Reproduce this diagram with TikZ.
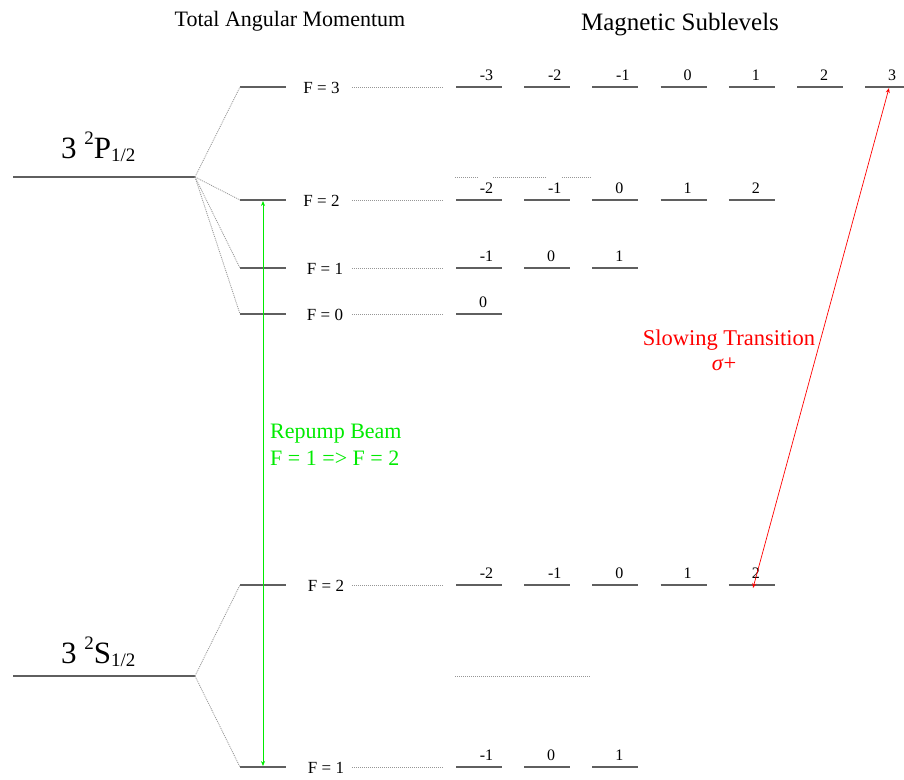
\documentclass[tikz,border=0pt]{standalone}
\usepackage{fontspec}
\setmainfont{Liberation Serif}
\usetikzlibrary{arrows.meta}
\definecolor{lvl}{RGB}{95,95,95}
\definecolor{dotc}{RGB}{150,150,150}
\definecolor{repump}{RGB}{0,235,0}
\tikzset{
  level/.style={draw=lvl, line width=1.1pt},
  dotl/.style={draw=dotc, line width=0.8pt, dash pattern=on 1pt off 1pt},
  flab/.style={anchor=base, inner sep=0pt, font=\fontsize{17}{19}\selectfont},
  mlab/.style={anchor=base, inner sep=0pt, font=\fontsize{16}{18}\selectfont},
  head/.style={anchor=base, inner sep=0pt, font=\fontsize{22}{26}\selectfont},
  big/.style={anchor=base west, inner sep=0pt, font=\fontsize{31}{36}\selectfont},
}
\newcommand{\sublevel}[4]{% #1 index (1..7), #2 y, #3 label, #4 offset
  \pgfmathsetmacro{\xa}{456+68.2*(#1-1)}
  \pgfmathsetmacro{\xb}{\xa+46}
  \coordinate (s#2a#1) at (\xa,#2);
  \coordinate (s#2b#1) at (\xb,#2);
  \draw[level] (s#2a#1) -- (s#2b#1);
  \node[mlab] (n#2m#1) at (\xa+23+#4,#2-7) {#3};
}
\begin{document}
\begin{tikzpicture}[x=1pt,y=-1pt]
\useasboundingbox (0,0) rectangle (904,779);
\fill[white] (0,0) rectangle (904,779);

% headers
\node[head] (hTAM) at (290,26) {Total Angular Momentum};
\node[head, font=\fontsize{25}{29}\selectfont] (hMS) at (680,30) {Magnetic Sublevels};

% fine-structure levels
\node[big] (Plab) at (61,158) {3 \raisebox{0.42em}{\fontsize{19}{20}\selectfont 2}P\raisebox{-0.12em}{\fontsize{19}{20}\selectfont 1/2}};
\node[big] (Slab) at (61,663) {3 \raisebox{0.42em}{\fontsize{19}{20}\selectfont 2}S\raisebox{-0.12em}{\fontsize{19}{20}\selectfont 1/2}};
\coordinate (P0) at (13,177);
\coordinate (P1) at (195,177);
\coordinate (S0) at (13,676);
\coordinate (S1) at (195,676);
\draw[level] (P0) -- (P1);
\draw[level] (S0) -- (S1);

% hyperfine levels
\foreach \nm/\y/\lx/\lab in {u3/87/321.5/3, u2/200/321.5/2, u1/268/325/1, u0/314/325/0, g2/585/326/2, g1/767/326/1}{
  \coordinate (\nm L) at (240,\y);
  \coordinate (\nm R) at (286,\y);
  \draw[level] (\nm L) -- (\nm R);
  \node[flab] (\nm lab) at (\lx,\y+6.5) {F = \lab};
  \coordinate (\nm dA) at (352,\y);
  \coordinate (\nm dB) at (443,\y);
  \draw[dotl] (\nm dA) -- (\nm dB);
}
\foreach \nm in {u3,u2,u1,u0}{ \draw[dotl] (P1) -- (\nm L); }
\foreach \nm in {g2,g1}{ \draw[dotl] (S1) -- (\nm L); }

% extra dotted continuation lines
\coordinate (d1a) at (455,177); \coordinate (d1b) at (478,177);
\coordinate (d2a) at (493,177); \coordinate (d2b) at (546,177);
\coordinate (d3a) at (562,177); \coordinate (d3b) at (591,177);
\coordinate (d4a) at (455,676); \coordinate (d4b) at (591,676);
\draw[dotl] (d1a) -- (d1b);
\draw[dotl] (d2a) -- (d2b);
\draw[dotl] (d3a) -- (d3b);
\draw[dotl] (d4a) -- (d4b);

% magnetic sublevels
\sublevel{1}{87}{-3}{7.5}
\sublevel{2}{87}{-2}{7.5}
\sublevel{3}{87}{-1}{7.5}
\sublevel{4}{87}{0}{4}
\sublevel{5}{87}{1}{4}
\sublevel{6}{87}{2}{4}
\sublevel{7}{87}{3}{4}

\sublevel{1}{200}{-2}{7.5}
\sublevel{2}{200}{-1}{7.5}
\sublevel{3}{200}{0}{4}
\sublevel{4}{200}{1}{4}
\sublevel{5}{200}{2}{4}

\sublevel{1}{268}{-1}{7.5}
\sublevel{2}{268}{0}{4}
\sublevel{3}{268}{1}{4}

\sublevel{1}{314}{0}{4}

\sublevel{1}{585}{-2}{7.5}
\sublevel{2}{585}{-1}{7.5}
\sublevel{3}{585}{0}{4}
\sublevel{4}{585}{1}{4}
\sublevel{5}{585}{2}{4}

\sublevel{1}{767}{-1}{7.5}
\sublevel{2}{767}{0}{4}
\sublevel{3}{767}{1}{4}

% repump beam
\coordinate (rpTop) at (263,201);
\coordinate (rpBot) at (263,766);
\draw[repump, line width=0.7pt, {Stealth[length=5pt,width=4pt]}-{Stealth[length=5pt,width=4pt]}] (rpBot) -- (rpTop);
\node[anchor=base west, inner sep=0pt, text=repump, font=\fontsize{22}{26}\selectfont] (rpl1) at (270,438) {Repump Beam};
\node[anchor=base west, inner sep=0pt, text=repump, font=\fontsize{22}{26}\selectfont] (rpl2) at (270,465) {F = 1 => F = 2};

% slowing transition
\coordinate (slBot) at (753,588);
\coordinate (slTop) at (889,88);
\draw[red, line width=0.7pt, {Stealth[length=5pt,width=4pt]}-{Stealth[length=5pt,width=4pt]}] (slBot) -- (slTop);
\node[anchor=base, inner sep=0pt, text=red, font=\fontsize{22.5}{26}\selectfont] (sl1) at (729,345) {Slowing Transition};
\node[anchor=base, inner sep=0pt, text=red, font=\fontsize{22.5}{26}\selectfont] (sl2) at (724,370) {\textit{σ}+};
\end{tikzpicture}
\end{document}
